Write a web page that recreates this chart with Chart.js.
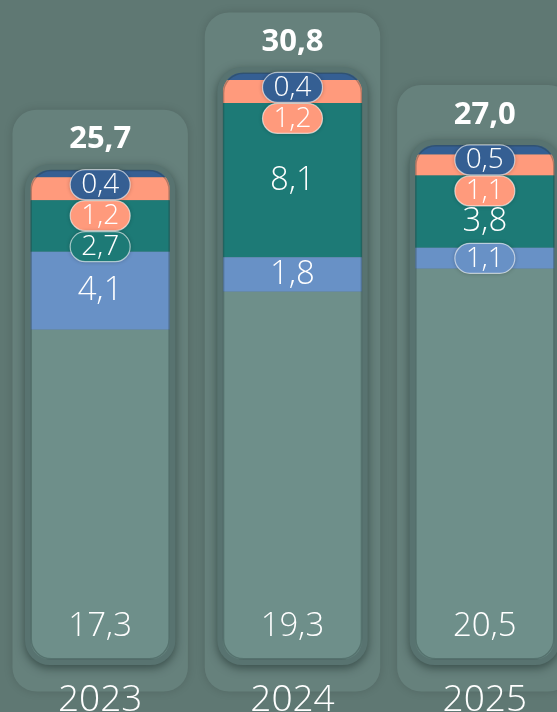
<!DOCTYPE html>
<html lang="de">
<head>
<meta charset="utf-8">
<title>Entwicklung 2023–2025</title>
<script src="https://cdn.jsdelivr.net/npm/chart.js@4.4.1/dist/chart.umd.min.js"></script>
<style>
  html, body { margin: 0; padding: 0; width: 557px; height: 712px; overflow: hidden; background: #5f7873; }
  #wrap { position: absolute; left: 0; top: 0; width: 582px; height: 744px; }
</style>
</head>
<body>
<div id="wrap"><canvas id="chart" width="582" height="744"></canvas></div>
<script>
// Categories and stacked components (bottom to top)
const years = ['2023', '2024', '2025'];
const baseValues = [17.3, 19.3, 20.5];
const lightBlueValues = [4.1, 1.8, 1.1];
const tealValues = [2.7, 8.1, 3.8];
const salmonValues = [1.2, 1.2, 1.1];
const navyValues = [0.4, 0.4, 0.5];

const FONT = '"Open Sans", "Segoe UI", "Noto Sans", sans-serif';
const LIGHT = '"Open Sans Light", "Lato Light", "Roboto Light", "Noto Sans Light", "Open Sans", sans-serif';
const fmt = v => v.toFixed(1).replace('.', ',');

function roundRectPath(ctx, x, y, w, h, r) {
  const rr = Math.min(r, w / 2, h / 2);
  ctx.moveTo(x + rr, y);
  ctx.lineTo(x + w - rr, y);
  ctx.arcTo(x + w, y, x + w, y + rr, rr);
  ctx.lineTo(x + w, y + h - rr);
  ctx.arcTo(x + w, y + h, x + w - rr, y + h, rr);
  ctx.lineTo(x + rr, y + h);
  ctx.arcTo(x, y + h, x, y + h - rr, rr);
  ctx.lineTo(x, y + rr);
  ctx.arcTo(x, y, x + rr, y, rr);
  ctx.closePath();
}

function stackTotal(chart, j) {
  return chart.data.datasets.reduce((s, d) => s + d.data[j], 0);
}

// Geometry of one stacked column, taken from the bar elements and the y scale
function column(chart, j) {
  const el = chart.getDatasetMeta(0).data[j];
  const ys = chart.scales.y;
  const total = stackTotal(chart, j);
  return {
    x: el.x,
    w: el.width,
    total,
    top: ys.getPixelForValue(total),
    bottom: ys.getPixelForValue(0)
  };
}

const INNER_R = 20;

const pillBars = {
  id: 'pillBars',
  beforeDraw(chart) {
    const ctx = chart.ctx;
    ctx.save();
    ctx.fillStyle = '#5f7873';
    ctx.fillRect(0, 0, chart.width, chart.height);
    chart.data.labels.forEach((_, j) => {
      const c = column(chart, j);
      // soft backing card behind each column
      ctx.save();
      ctx.shadowColor = 'rgba(0,0,0,0.14)';
      ctx.shadowBlur = 10;
      ctx.fillStyle = '#66817c';
      ctx.beginPath();
      roundRectPath(ctx, c.x - c.w / 2 - 18, c.top - 60, c.w + 36, c.bottom - c.top + 92, 24);
      ctx.fill();
      ctx.restore();
      // frame of the column
      ctx.save();
      ctx.shadowColor = 'rgba(20,35,32,0.55)';
      ctx.shadowBlur = 10;
      ctx.shadowOffsetY = 3;
      ctx.fillStyle = '#587370';
      ctx.beginPath();
      roundRectPath(ctx, c.x - c.w / 2 - 5.5, c.top - 5.5, c.w + 11, c.bottom - c.top + 11, INNER_R + 5);
      ctx.fill();
      ctx.restore();
    });
    ctx.restore();
  },
  beforeDatasetsDraw(chart) {
    const ctx = chart.ctx;
    ctx.save();
    ctx.beginPath();
    chart.data.labels.forEach((_, j) => {
      const c = column(chart, j);
      roundRectPath(ctx, c.x - c.w / 2, c.top, c.w, c.bottom - c.top, INNER_R);
    });
    ctx.clip();
  },
  afterDatasetsDraw(chart) {
    const ctx = chart.ctx;
    ctx.restore();
    const sets = chart.data.datasets;
    const HALF = 12, GAP = 31;
    ctx.save();
    ctx.textAlign = 'center';
    ctx.textBaseline = 'middle';
    chart.data.labels.forEach((_, j) => {
      const c = column(chart, j);
      // inner rim
      ctx.save();
      ctx.strokeStyle = 'rgba(40,60,56,0.35)';
      ctx.lineWidth = 1.5;
      ctx.beginPath();
      roundRectPath(ctx, c.x - c.w / 2 + 0.75, c.top + 0.75, c.w - 1.5, c.bottom - c.top - 1.5, INNER_R);
      ctx.stroke();
      ctx.restore();

      ctx.fillStyle = '#ffffff';
      // stack total above the column
      ctx.font = `700 31px ${FONT}`;
      ctx.fillText(fmt(c.total), c.x, c.top - 30);

      // bottom component, near the foot of the column
      ctx.font = `300 33px ${LIGHT}`;
      ctx.fillText(fmt(sets[0].data[j]), c.x, c.bottom - 32);

      // upper components: centred in their segment, pushed apart when they would collide;
      // a label that no longer sits inside its own segment gets a badge in the segment colour
      let prev = c.top + 3 + HALF - GAP;
      for (let i = sets.length - 1; i >= 1; i--) {
        const el = chart.getDatasetMeta(i).data[j];
        const segTop = Math.min(el.y, el.base);
        const segBot = Math.max(el.y, el.base);
        const want = (segTop + segBot) / 2;
        const yy = Math.max(want, prev + GAP);
        prev = yy;
        const fits = yy - HALF >= segTop - 1 && yy + HALF <= segBot + 1;
        const txt = fmt(sets[i].data[j]);
        if (!fits) {
          ctx.font = `300 28px ${LIGHT}`;
          const tw = ctx.measureText(txt).width + 22;
          ctx.save();
          ctx.shadowColor = 'rgba(0,0,0,0.3)';
          ctx.shadowBlur = 4;
          ctx.fillStyle = sets[i].backgroundColor;
          ctx.beginPath();
          roundRectPath(ctx, c.x - tw / 2, yy - 15, tw, 30, 15);
          ctx.fill();
          ctx.restore();
          ctx.save();
          ctx.strokeStyle = 'rgba(255,255,255,0.6)';
          ctx.lineWidth = 1.2;
          ctx.beginPath();
          roundRectPath(ctx, c.x - tw / 2, yy - 15, tw, 30, 15);
          ctx.stroke();
          ctx.restore();
        } else {
          ctx.font = `300 33px ${LIGHT}`;
        }
        ctx.fillStyle = '#ffffff';
        ctx.fillText(txt, c.x, yy + 1);
      }
    });
    ctx.restore();
  }
};

new Chart(document.getElementById('chart'), {
  type: 'bar',
  data: {
    labels: years,
    datasets: [
      { label: 'Basis', data: baseValues, backgroundColor: '#6e8f8a' },
      { label: 'Hellblau', data: lightBlueValues, backgroundColor: '#6891c6' },
      { label: 'Petrol', data: tealValues, backgroundColor: '#1d7a76' },
      { label: 'Lachs', data: salmonValues, backgroundColor: '#ff9a7c' },
      { label: 'Dunkelblau', data: navyValues, backgroundColor: '#355f93' }
    ]
  },
  options: {
    responsive: false,
    devicePixelRatio: 1,
    animation: false,
    events: [],
    layout: { padding: { left: 4, right: 1, top: 0, bottom: 0 } },
    datasets: { bar: { barPercentage: 0.725, categoryPercentage: 1, borderWidth: 0 } },
    plugins: { legend: { display: false }, tooltip: { enabled: false } },
    scales: {
      x: {
        stacked: true,
        grid: { display: false, drawTicks: false },
        border: { display: false },
        ticks: { color: '#ffffff', padding: 20, font: { family: LIGHT, size: 37, weight: 300 } }
      },
      y: {
        stacked: true,
        display: false,
        min: 0,
        max: 34.6
      }
    }
  },
  plugins: [pillBars]
});
</script>
</body>
</html>
